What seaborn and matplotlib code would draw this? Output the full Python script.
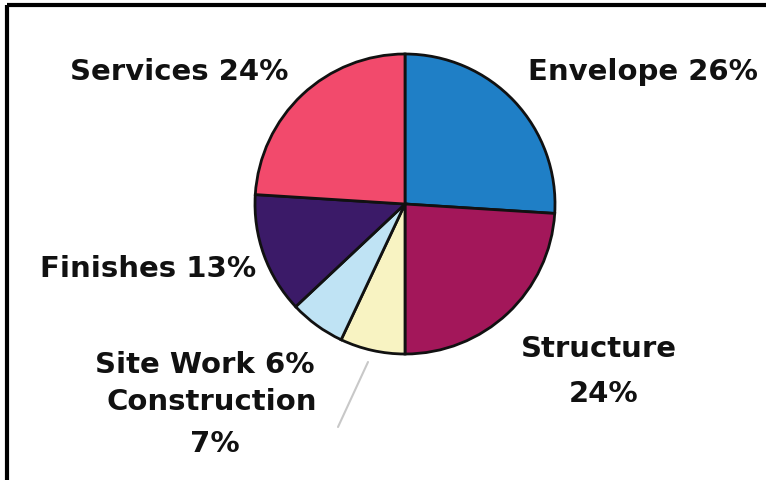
import matplotlib
matplotlib.use("Agg")
import matplotlib.pyplot as plt
import seaborn as sns

sns.set_theme(style="white")
plt.rcParams['font.family'] = ['DejaVu Sans']

categories = ["Envelope", "Structure", "Construction", "Site Work", "Finishes", "Services"]
values = [26, 24, 7, 6, 13, 24]
colors = ["#1f7fc6", "#a3175a", "#f8f3c2", "#bfe3f4", "#3b1a68", "#f24a6c"]

W, H = 766, 481
fig = plt.figure(figsize=(W / 100, H / 100), dpi=100)
ax = fig.add_axes([0, 0, 1, 1])
ax.set_xlim(0, W)
ax.set_ylim(0, H)
ax.set_aspect("equal")
ax.axis("off")

ax.pie(values, colors=colors, startangle=90, counterclock=False,
       center=(405, H - 205), radius=150,
       wedgeprops=dict(edgecolor="#111111", linewidth=2))
ax.set_xlim(0, W)
ax.set_ylim(0, H)

# frame (top and left edges)
ax.plot([7, W], [H - 6, H - 6], color="black", lw=3, solid_capstyle="butt")
ax.plot([7, 7], [0, H - 6], color="black", lw=3, solid_capstyle="butt")

# leader line
ax.plot([368, 338], [H - 363, H - 428], color="#c8c8c8", lw=1.5)

fs = 21
kw = dict(fontsize=fs, fontweight="bold", color="#111111", va="baseline")
ax.text(70, H - 80, f"{categories[5]} {values[5]}%", ha="left", **kw)
ax.text(528, H - 80, f"{categories[0]} {values[0]}%", ha="left", **kw)
ax.text(40, H - 277, f"{categories[4]} {values[4]}%", ha="left", **kw)
ax.text(95, H - 373, f"{categories[3]} {values[3]}%", ha="left", **kw)
ax.text(212, H - 410, f"{categories[2]}", ha="center", **kw)
ax.text(215, H - 452, f"{values[2]}%", ha="center", **kw)
ax.text(599, H - 357, f"{categories[1]}", ha="center", **kw)
ax.text(604, H - 402, f"{values[1]}%", ha="center", **kw)

fig.savefig("out.png", dpi=100)
